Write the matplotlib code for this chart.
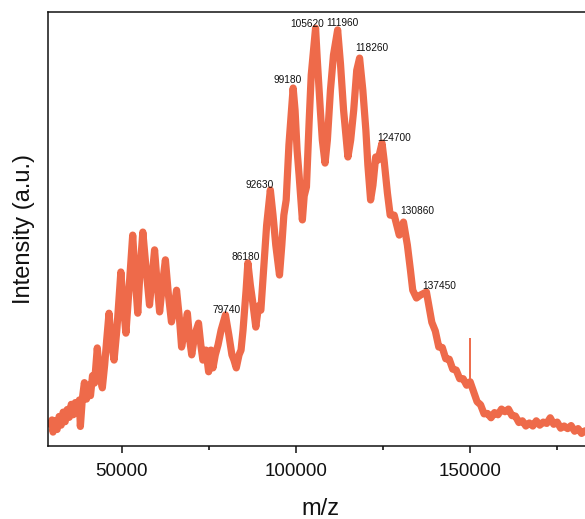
import numpy as np
import matplotlib
matplotlib.use("Agg")
import matplotlib.pyplot as plt
from matplotlib.ticker import MultipleLocator

# m/z and intensity (a.u., 0-100)
mz = [29360, 29940, 30230, 30810, 31400, 31980, 32560, 33140, 33720, 34300,
      34880, 35470, 36050, 36630, 37210, 37790, 38080, 38660, 39240, 39830,
      40410, 40990, 41570, 42150, 42940, 43600, 44390, 45060, 45640, 46310,
      46950, 47760, 48550, 49710, 50290, 51160, 52030, 53110, 53780, 54560,
      55230, 56020, 56980, 57940, 58720, 59390, 60170, 60840, 61630, 62500,
      63370, 64240, 65120, 65700, 66570, 67150, 68020, 68810, 69480, 70060,
      70930, 72010, 72670, 73260, 74130, 74910, 75580, 76160, 76830, 77620,
      78490, 79740, 80710, 81600, 82180, 82850, 83640, 84220, 84790, 85670,
      86180, 86890, 87500, 88460, 89250, 89910, 90700, 91570, 92630, 93400,
      94190, 95260, 95930, 96510, 97180, 97970, 99180, 99730, 100310, 100890,
      101830, 102350, 103000, 103790, 104370, 105620, 106120, 106990, 107560, 108340,
      109010, 109890, 110760, 111960, 112780, 113660, 114910, 115700, 116570, 117440,
      118260, 119190, 120060, 120640, 121420, 122090, 122880, 123550, 124700, 125290,
      126250, 127040, 128200, 129650, 130860, 131980, 132850, 133520, 134590, 135760,
      137450, 138000, 139000, 140000, 141000, 142000, 143000, 144000, 145000, 146000,
      147000, 148000, 149000, 150000, 151000, 152000, 153000, 154000,
      155000, 156000, 157000, 158000, 159000, 160000, 161000, 162000, 163000, 164000,
      165000, 166000, 167000, 168000, 169000, 170000, 171000, 172000, 173000, 174000,
      175000, 176000, 177000, 178000, 179000, 180000, 181000, 182000, 183000, 184000,
      185000]
intensity = [4.2, 6.0, 3.2, 5.8, 3.8, 6.8, 4.8, 7.8, 5.6, 8.4,
             6.6, 9.6, 7.2, 10.0, 8.0, 10.6, 4.5, 11.0, 14.6, 10.8,
             14.0, 11.6, 16.2, 14.5, 22.6, 16.6, 13.4, 18.7, 24.4, 30.6,
             24.4, 19.8, 26.7, 40.1, 33.6, 26.0, 35.9, 48.6, 39.4, 30.6,
             40.6, 49.3, 40.6, 32.5, 39.4, 45.2, 37.1, 30.9, 37.1, 42.9,
             34.8, 28.6, 32.5, 35.9, 29.0, 22.8, 26.7, 30.6, 24.4, 21.0,
             25.6, 28.3, 23.3, 19.8, 22.1, 17.1, 22.1, 18.0, 21.0, 23.3,
             26.7, 30.2, 25.6, 21.0, 19.8, 18.0, 21.0, 22.1, 26.7, 35.9,
             42.2, 37.1, 33.6, 27.4, 32.3, 31.3, 40.6, 50.9, 59.0, 53.2,
             46.3, 39.4, 46.3, 53.2, 56.7, 69.4, 82.5, 77.4, 68.2, 62.4,
             52.1, 57.6, 59.7, 75.1, 85.5, 96.3, 88.9, 77.4, 70.5, 65.2,
             70.5, 82.0, 90.1, 95.9, 88.0, 77.4, 66.6, 70.5, 77.4, 86.6,
             89.4, 82.0, 72.8, 64.7, 56.7, 60.1, 66.6, 65.9, 69.8, 65.9,
             58.3, 53.2, 53.2, 48.6, 51.6, 46.3, 40.6, 35.9, 34.1, 34.8,
             35.5, 33.0, 28.5, 26.5, 22.8, 22.7, 20.1, 20.0, 17.7, 17.5,
             15.5, 15.5, 14.0, 14.8, 12.5, 10.2, 9.5, 7.4,
             7.5, 6.5, 7.7, 7.2, 8.5, 7.9, 8.5, 7.0, 6.9, 5.4,
             5.8, 4.6, 5.3, 4.6, 5.8, 4.8, 5.5, 5.2, 6.5, 5.0,
             5.5, 4.1, 4.6, 4.0, 4.7, 3.4, 4.0, 2.9, 3.5, 1.9,
             2.5]

# narrow spike near 150000
spike_mz = [150000]
spike_lo = [15.0]
spike_hi = [24.9]

peak_mz = [79740, 86180, 92630, 99180, 105620, 111960, 118260, 124700, 130860, 137450]
peak_int = [30.2, 42.2, 59.0, 82.5, 96.3, 95.9, 89.4, 69.8, 51.6, 35.5]
# label centre offsets in pixels (dx, dy) from each peak
label_off = [(1, 5), (-2, 6), (-11, 5), (-6, 8), (-8, 4),
             (5, 7), (12, 10), (12, 5), (14, 11), (13, 6)]

plt.rcParams['font.family'] = ['Liberation Sans', 'DejaVu Sans']

fig = plt.figure(figsize=(5.85, 5.19), dpi=100)
ax = fig.add_axes([0.082, 0.1407, 0.93, 0.836])

line_col = "#EE6A4A"
ax.plot(mz, intensity, color=line_col, lw=5.2, solid_joinstyle="round",
        solid_capstyle="butt")
ax.vlines(spike_mz, spike_lo, spike_hi, color=line_col, lw=1.4)

for m, v, (dx, dy) in zip(peak_mz, peak_int, label_off):
    ax.annotate(str(m), (m, v), xytext=(dx, dy), textcoords="offset pixels",
                ha="center", va="center", fontsize=7.3, color="#111111")

ax.set_xlim(28780, 185000)
ax.set_ylim(0, 100)
ax.xaxis.set_major_locator(MultipleLocator(50000))
ax.xaxis.set_minor_locator(MultipleLocator(25000))
ax.set_yticks([])
ax.tick_params(axis="x", which="major", direction="out", length=5, width=1.1,
               labelsize=13.5, pad=7.5, colors="#111111")
ax.tick_params(axis="x", which="minor", direction="out", length=3, width=1.1)
for side in ["left", "bottom", "top"]:
    ax.spines[side].set_linewidth(1.1)
    ax.spines[side].set_color("#111111")
ax.spines["right"].set_visible(False)

ax.set_xlabel("m/z", fontsize=17, labelpad=13, color="#111111")
ax.set_ylabel("Intensity (a.u.)", fontsize=17, labelpad=9, color="#111111")

fig.savefig("out.png", dpi=100)
